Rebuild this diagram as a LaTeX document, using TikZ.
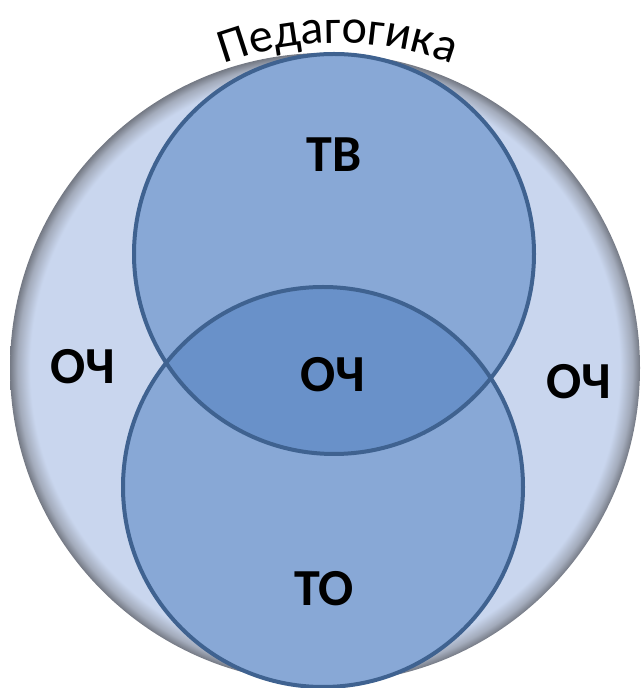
\documentclass[tikz,border=0pt]{standalone}
\usepackage{fontspec}
\setmainfont{Carlito}
\usetikzlibrary{decorations.text}
\definecolor{bigfill}{HTML}{C9D6EE}
\definecolor{rimmid}{HTML}{A3ABBB}
\definecolor{rimdark}{HTML}{747984}
\definecolor{setfill}{HTML}{88A8D6}
\definecolor{overlapfill}{HTML}{6991C9}
\definecolor{setline}{HTML}{3F6290}
\pgfdeclareradialshading{rimshade}{\pgfpoint{0bp}{0bp}}{%
  color(0bp)=(bigfill); color(23.4bp)=(bigfill); color(24.4bp)=(rimmid);
  color(25bp)=(rimdark); color(50bp)=(rimdark)}
\newfontfamily\pedfont{Carlito}
\tikzset{
  setcircle/.style={circle, minimum size=400pt, inner sep=0pt},
  setedge/.style={draw=setline, line width=4pt},
  zonelabel/.style={font=\bfseries\fontsize{52}{52}\selectfont, text=black, inner sep=0pt}
}
\begin{document}
\begin{tikzpicture}[x=1pt, y=1pt]
  \useasboundingbox (0,0) rectangle (644,688);
  % outer set with a soft grey rim
  \shade[shading=rimshade] (325,320) circle[radius=315];
  % the two inner sets
  \coordinate (cTV) at (334,434);
  \coordinate (cTO) at (323,201);
  \fill[setfill] (cTV) circle[radius=200];
  \fill[setfill] (cTO) circle[radius=200];
  \begin{scope}
    \clip (cTV) circle[radius=200];
    \fill[overlapfill] (cTO) circle[radius=200];
  \end{scope}
  \node[setcircle, setedge] (tv) at (cTV) {};
  \node[setcircle, setedge] (to) at (cTO) {};
  % zone labels
  \node[zonelabel] (ltv) at (334,533) {ТВ};
  \node[zonelabel] (lmid) at (333,313) {ОЧ};
  \node[zonelabel] (lleft) at (83,321) {ОЧ};
  \node[zonelabel] (lright) at (579,306) {ОЧ};
  \node[zonelabel] (lto) at (324,99) {ТО};
  % curved title above the outer set
  \path[decorate, decoration={text along path, text align=center,
        text={|\pedfont\fontsize{48}{48}\selectfont|Педагогика}}]
    (338,320) ++(118:325) arc[start angle=118, end angle=62, radius=325];
\end{tikzpicture}
\end{document}
